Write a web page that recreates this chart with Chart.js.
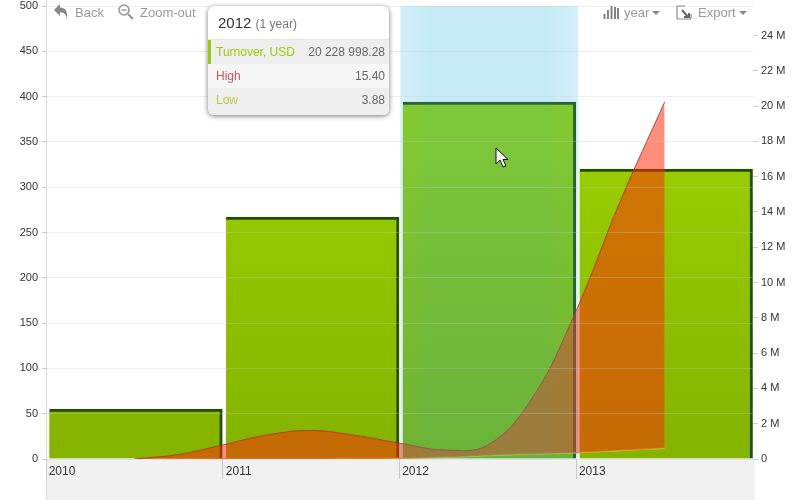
<!DOCTYPE html>
<html><head><meta charset="utf-8">
<style>
html,body{margin:0;padding:0;background:#fff;overflow:hidden}
#wrap{position:relative;width:800px;height:500px;font-family:"Liberation Sans",Arial,sans-serif}
canvas{position:absolute;left:0;top:0}
.tb{position:absolute;font-size:13px;color:#999;line-height:14px;white-space:nowrap}
.ic{position:absolute}
#tip{position:absolute;left:208px;top:6px;width:181px;height:109px;border-radius:6px;background:#fff;box-shadow:0 1px 5px rgba(0,0,0,.55);overflow:hidden;font-size:12px;color:#666}
#tip .h{height:33px;line-height:33px;padding-left:10px;color:#333;font-size:15px;border-bottom:1px solid #e4e4e4}
#tip .h span{font-size:12px;color:#777}
#tip .r{display:flex;justify-content:space-between;height:24px;line-height:24px;padding:0 4px 0 8px}
</style></head><body>
<div id="wrap"><canvas id="c" width="800" height="500"></canvas>
<svg class="ic" style="left:53px;top:3px" width="16" height="18" viewBox="0 0 16 18"><path d="M1 7 L7 1 V4.5 C12 4.5 15 8 14 16 C13 11 11 9.5 7 9.5 V13 Z" fill="#888"/></svg>
<div class="tb" style="left:75px;top:6px">Back</div>
<svg class="ic" style="left:117px;top:3px" width="18" height="18" viewBox="0 0 18 18"><circle cx="7" cy="7" r="5" fill="none" stroke="#999" stroke-width="1.6"/><path d="M4.5 7H9.5" stroke="#999" stroke-width="1.4"/><path d="M11 11L16 16" stroke="#999" stroke-width="2.2"/></svg>
<div class="tb" style="left:140px;top:6px">Zoom-out</div>
<svg class="ic" style="left:603px;top:4px" width="16" height="16" viewBox="0 0 16 16"><path d="M1.5 15V10M5 15V6M8.5 15V2M12 15V3M15 15V4" stroke="#777" stroke-width="1.8"/></svg>
<div class="tb" style="left:624px;top:6px">year</div>
<svg class="ic" style="left:652px;top:11px" width="8" height="5"><path d="M0 0H8L4 4Z" fill="#888"/></svg>
<svg class="ic" style="left:676px;top:5px" width="16" height="15" viewBox="0 0 16 15"><path d="M9 1H2Q1 1 1 2V13Q1 14 2 14H14Q15 14 15 13V9" fill="none" stroke="#888" stroke-width="1.2"/><path d="M6 5L12 12M8 12H13V8" stroke="#666" stroke-width="2" fill="none"/></svg>
<div class="tb" style="left:698px;top:6px">Export</div>
<svg class="ic" style="left:739px;top:11px" width="8" height="5"><path d="M0 0H8L4 4Z" fill="#888"/></svg>
<div id="tip"></div>
<svg class="ic" style="left:495px;top:147px" width="14" height="22" viewBox="0 0 14 22"><path d="M1 1V17L5 13L8 20L11 19L8 12.5H13Z" fill="#fff" stroke="#111" stroke-width="1"/></svg>
</div>
<script src="https://cdn.jsdelivr.net/npm/chart.js@4"></script>
<script>
const periodCenters=[2010.508,2011.508,2012.508,2013.508];
const areaYears=[2010.5,2010.75,2011,2011.25,2011.5,2011.75,2012,2012.25,2012.5,2012.75,2013,2013.25,2013.5];
const turnover=[2830000,13710000,20228998.28,16430000];
const high=[0,5,15.5,26.5,31.5,26,17.5,10,15.40,67,164,285,394];
const low=[0,0,0,0,0,0.3,0.5,1.8,3.88,5.5,7,9.5,12];
const bandYear=[2012.508];
const yearTicks=[2010,2011,2012,2013];
const rightTicks=[0,2e6,4e6,6e6,8e6,10e6,12e6,14e6,16e6,18e6,20e6,22e6,24e6];
const leftMax=500, rightMax=25670000, xMin=2010, xMax=2014;
const pts=(xs,ys)=>xs.map((x,i)=>({x,y:ys[i]}));

function barFill(ctx){
  const a=ctx.chart.chartArea; if(!a) return '#8ebf00';
  const g=ctx.chart.ctx.createLinearGradient(0,a.top,0,a.bottom);
  g.addColorStop(0,'#a3d900');g.addColorStop(.33,'#9acd00');g.addColorStop(1,'#84b300');return g;
}
function bandFill(ctx){
  const a=ctx.chart.chartArea; if(!a) return 'rgba(35,175,223,.25)';
  const s=ctx.chart.scales.x,l=s.getPixelForValue(2012),r=s.getPixelForValue(2013);
  const g=ctx.chart.ctx.createLinearGradient(l,0,r,0);
  g.addColorStop(0,'rgba(35,175,223,.2)');g.addColorStop(.17,'rgba(35,175,223,.26)');
  g.addColorStop(.83,'rgba(35,175,223,.26)');g.addColorStop(1,'rgba(35,175,223,.2)');return g;
}
const backdrop={id:'backdrop',beforeDraw(ch){
  const {ctx,chartArea:a}=ch;ctx.save();
  ctx.fillStyle='#f1f1f1';ctx.fillRect(a.left,a.bottom,a.right-a.left+2,500-a.bottom);
  ctx.strokeStyle='#d8d8d8';ctx.lineWidth=1;ctx.beginPath();ctx.moveTo(a.left+.5,0);ctx.lineTo(a.left+.5,500);ctx.stroke();
  ctx.restore();
}};
const noPad=s=>{s.paddingTop=0;s.paddingBottom=0;s.paddingLeft=0;s.paddingRight=0};
new Chart(document.getElementById('c'),{
  type:'bar',
  data:{datasets:[
    {type:'bar',label:'Selection',data:pts(bandYear,[rightMax]),yAxisID:'yR',xAxisID:'x',order:1,grouped:false,barThickness:177,backgroundColor:bandFill,borderWidth:0},
    {type:'line',label:'High',data:pts(areaYears,high),yAxisID:'yL',xAxisID:'x',order:2,tension:.4,pointRadius:0,borderColor:'rgba(170,50,30,.85)',borderWidth:1,backgroundColor:'rgba(255,42,8,.53)',fill:'+1'},
    {type:'line',label:'Low',data:pts(areaYears,low),yAxisID:'yL',xAxisID:'x',order:2,tension:.4,pointRadius:0,borderColor:'#c9c83a',borderWidth:1.5,fill:false},
    {type:'bar',label:'Turnover, USD',data:pts(periodCenters,turnover),yAxisID:'yR',xAxisID:'x',order:3,grouped:false,barThickness:173,backgroundColor:barFill,borderColor:'#264d08',borderWidth:{top:3,right:3,left:0,bottom:0},borderSkipped:false}
  ]},
  plugins:[backdrop],
  options:{
    responsive:false,animation:false,
    layout:{padding:{top:6,left:0,right:0,bottom:0}},
    plugins:{legend:{display:false},tooltip:{enabled:false}},
    scales:{
      x:{type:'linear',offset:false,min:xMin,max:xMax,position:'bottom',
        afterFit(s){s.height=41;noPad(s)},
        afterBuildTicks(s){s.ticks=yearTicks.map(v=>({value:v}))},
        grid:{offset:false,drawOnChartArea:false,tickLength:20,color:'#c8c8c8'},border:{display:false},
        ticks:{autoSkip:false,maxRotation:0,padding:-15,labelOffset:16,color:'#333',font:{family:'Liberation Sans',size:12},callback:v=>String(v)}},
      yL:{type:'linear',position:'left',min:0,max:leftMax,afterFit(s){s.width=46;noPad(s)},
        grid:{color:'rgba(200,200,200,.3)',tickLength:4,z:1,tickColor:'#ccc'},border:{display:false},
        ticks:{stepSize:50,padding:4,color:'#333',font:{family:'Liberation Sans',size:11}}},
      yR:{type:'linear',position:'right',min:0,max:rightMax,afterFit(s){s.width=47;noPad(s)},
        afterBuildTicks(s){s.ticks=rightTicks.map(v=>({value:v}))},
        grid:{drawOnChartArea:false,tickLength:5,color:'#ccc'},border:{display:false},
        ticks:{autoSkip:false,padding:3,color:'#333',font:{family:'Liberation Sans',size:11},
          callback:v=>v===0?'0':(v/1e6)+' M'}}
    }
  }
});
const fmt=v=>v.toFixed(2).replace(/\B(?=(\d{3})+(?!\d))/g,' ').replace(/(\.\d*) (\d)/,'$1$2');
const i=2;
document.getElementById('tip').innerHTML=
 '<div class="h">'+yearTicks[i]+' <span>(1 year)</span></div>'+
 '<div class="r" style="background:#eee;border-left:3px solid #9c0;padding-left:5px;color:#666"><span style="color:#9c0">Turnover, USD</span><span>'+fmt(turnover[i])+'</span></div>'+
 '<div class="r" style="background:#f6f6f6"><span style="color:#c55">High</span><span>'+fmt(high[8])+'</span></div>'+
 '<div class="r" style="background:#eee;height:28px"><span style="color:#bc3">Low</span><span>'+fmt(low[8])+'</span></div>';
</script></body></html>
